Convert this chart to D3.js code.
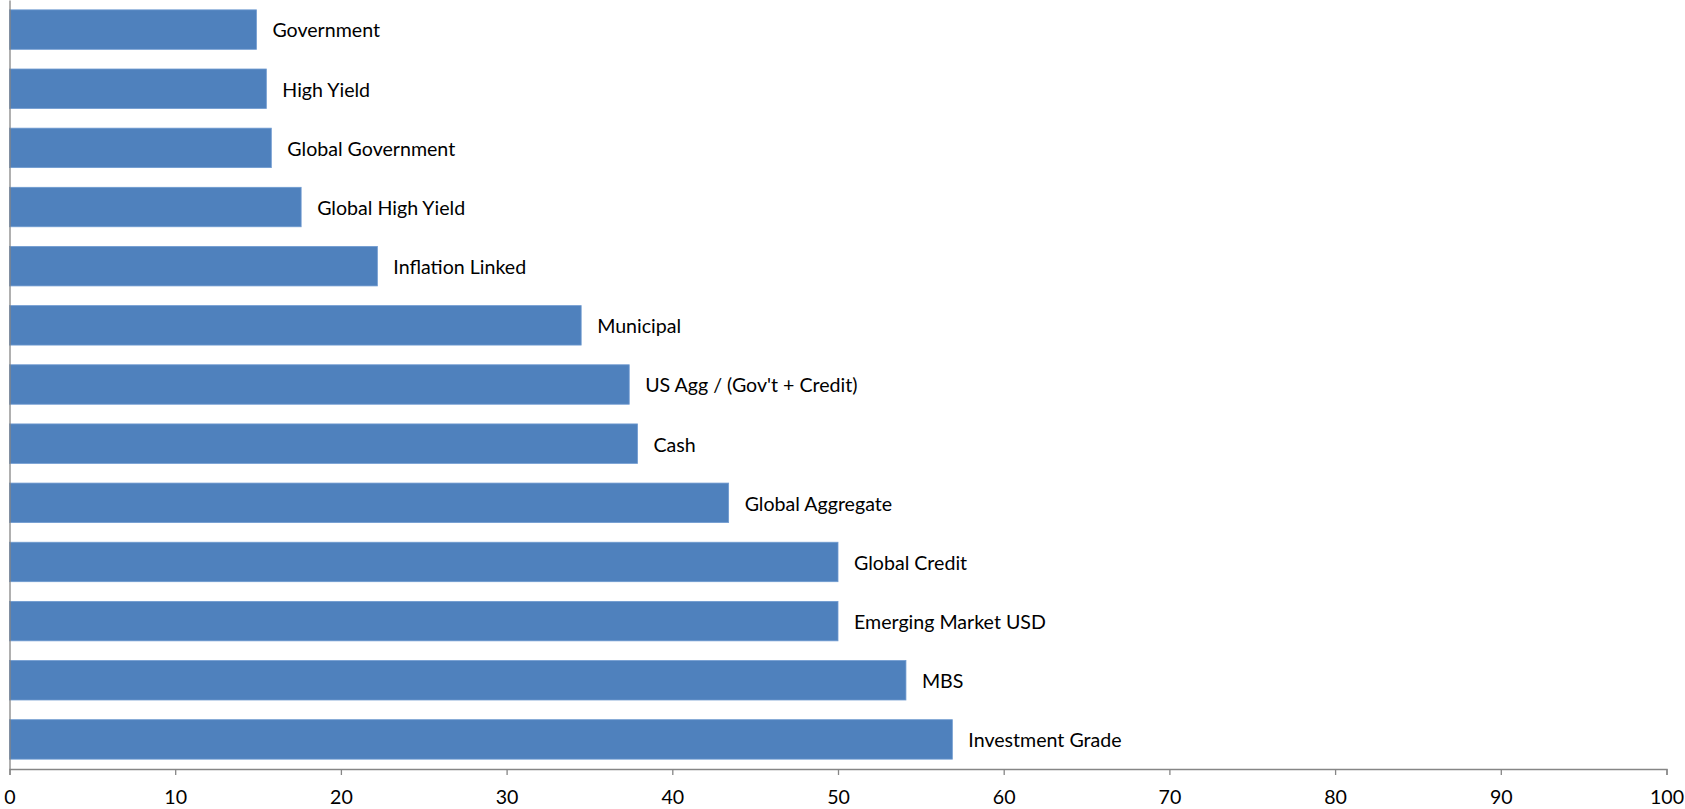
<!DOCTYPE html>
<html>
<head>
<meta charset="utf-8">
<script src="https://cdn.jsdelivr.net/npm/d3@7"></script>
<style>
  html, body { margin: 0; padding: 0; background: #fff; }
  svg text { font-family: Lato, "Liberation Sans", sans-serif; fill: #000; }
</style>
</head>
<body>
<svg id="chart" width="1685" height="809"></svg>
<script>
const categories = [
  "Government", "High Yield", "Global Government", "Global High Yield",
  "Inflation Linked", "Municipal", "US Agg / (Gov't + Credit)", "Cash",
  "Global Aggregate", "Global Credit", "Emerging Market USD", "MBS",
  "Investment Grade"
];
const values = [14.9, 15.5, 15.8, 17.6, 22.2, 34.5, 37.4, 37.9, 43.4, 50.0, 50.0, 54.1, 56.9];
const xTicks = [0, 10, 20, 30, 40, 50, 60, 70, 80, 90, 100];

(function () {
const svg = d3.select("#chart");
const mLeft = 9.5, mRight = 1666.5, mTop = 0, mBottom = 769;
const fontSize = 19.6;

const x = d3.scaleLinear().domain([0, 100]).range([mLeft, mRight]);
const y = d3.scaleBand().domain(categories).range([mTop, mBottom])
  .paddingInner(0.333).paddingOuter(0.1665);

const data = categories.map((c, i) => ({ c, v: values[i] }));

svg.append("g").selectAll("rect").data(data).join("rect")
  .attr("x", x(0))
  .attr("y", d => y(d.c))
  .attr("width", d => x(d.v) - x(0))
  .attr("height", y.bandwidth())
  .attr("fill", "#4F81BD")
  .attr("stroke", "#6F9AD0")
  .attr("stroke-width", 0.8);

svg.append("g").selectAll("text").data(data).join("text")
  .attr("x", d => x(d.v) + 16)
  .attr("y", d => y(d.c) + y.bandwidth() / 2 + 1)
  .attr("dy", "0.35em")
  .attr("font-size", fontSize)
  .text(d => d.c);

const xAxis = d3.axisBottom(x).tickValues(xTicks).tickSize(6).tickPadding(15).tickFormat(d3.format("d"));
const gx = svg.append("g").attr("transform", `translate(0,${mBottom})`).call(xAxis);
gx.select(".domain").attr("stroke", "#868686").attr("stroke-width", 1.3);
gx.selectAll(".tick line").attr("stroke", "#868686").attr("stroke-width", 1.3);
gx.selectAll(".tick text").attr("font-size", fontSize).attr("font-family", "Lato, sans-serif").attr("fill", "#000");

const yAxis = d3.axisLeft(y).tickSize(0).tickFormat("");
const gy = svg.append("g").attr("transform", `translate(${mLeft},0)`).call(yAxis);
gy.select(".domain").attr("stroke", "#868686").attr("stroke-width", 1.3);
})();
</script>
</body>
</html>
